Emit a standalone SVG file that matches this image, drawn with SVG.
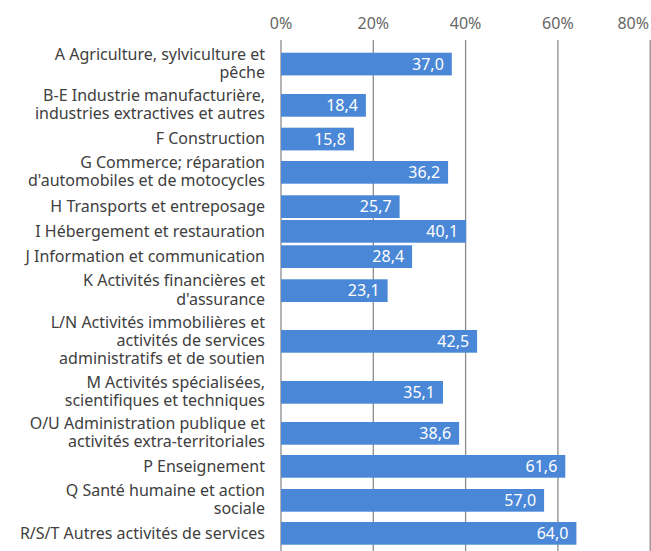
<svg xmlns="http://www.w3.org/2000/svg" width="651" height="551" viewBox="0 0 651 551">
<style>
.lbl{font-family:"Noto Sans","Open Sans",sans-serif;font-size:16px;fill:#404040;text-anchor:end}
.tick{font-family:"Noto Sans","Open Sans",sans-serif;font-size:16px;fill:#666666;text-anchor:middle}
.val{font-family:"Noto Sans","Open Sans",sans-serif;font-size:16px;fill:#ffffff;text-anchor:end}
.bar{fill:#4a87d6}
.grid{stroke:#8c8c8c;stroke-width:1.3}
</style>
<rect width="651" height="551" fill="#ffffff"/>
<g id="axis">
<line class="grid" x1="281" y1="40" x2="281" y2="551"/>
<line class="grid" x1="373.3" y1="40" x2="373.3" y2="551"/>
<line class="grid" x1="465.6" y1="40" x2="465.6" y2="551"/>
<line class="grid" x1="557.9" y1="40" x2="557.9" y2="551"/>
<line class="grid" x1="650.2" y1="40" x2="650.2" y2="551"/>
<text class="tick" x="281" y="29">0%</text>
<text class="tick" x="373.3" y="29">20%</text>
<text class="tick" x="465.6" y="29">40%</text>
<text class="tick" x="557.9" y="29">60%</text>
<text class="tick" x="649" y="29" style="text-anchor:end">80%</text>
</g>
<g id="A"><text class="lbl"><tspan x="265" y="59.6">A Agriculture, sylviculture et</tspan><tspan x="265" y="77.9">pêche</tspan></text><rect class="bar" x="281" y="52.7" width="170.8" height="22.7"/><text class="val" x="443.8" y="69.6">37,0</text></g>
<g id="BE"><text class="lbl"><tspan x="265" y="100.9">B-E Industrie manufacturière,</tspan><tspan x="265" y="119.2">industries extractives et autres</tspan></text><rect class="bar" x="281" y="94" width="84.9" height="22.7"/><text class="val" x="357.9" y="111">18,4</text></g>
<g id="F"><text class="lbl" x="265" y="144.4">F Construction</text><rect class="bar" x="281" y="127.7" width="72.9" height="22.7"/><text class="val" x="345.9" y="144.6">15,8</text></g>
<g id="G"><text class="lbl"><tspan x="265" y="167.9">G Commerce; réparation</tspan><tspan x="265" y="186.2">d'automobiles et de motocycles</tspan></text><rect class="bar" x="281" y="161" width="167.1" height="22.7"/><text class="val" x="440.1" y="178">36,2</text></g>
<g id="H"><text class="lbl" x="265" y="211.9">H Transports et entreposage</text><rect class="bar" x="281" y="195.3" width="118.6" height="22.7"/><text class="val" x="391.6" y="212.3">25,7</text></g>
<g id="I"><text class="lbl" x="265" y="236.6">I Hébergement et restauration</text><rect class="bar" x="281" y="220" width="185.1" height="22.7"/><text class="val" x="458.1" y="237">40,1</text></g>
<g id="J"><text class="lbl" x="265" y="261.9">J Information et communication</text><rect class="bar" x="281" y="245.3" width="131.1" height="22.7"/><text class="val" x="404.1" y="262.3">28,4</text></g>
<g id="K"><text class="lbl"><tspan x="265" y="286.2">K Activités financières et</tspan><tspan x="265" y="304.5">d'assurance</tspan></text><rect class="bar" x="281" y="279.3" width="106.6" height="22.7"/><text class="val" x="379.6" y="296.3">23,1</text></g>
<g id="LN"><text class="lbl"><tspan x="265" y="327.8">L/N Activités immobilières et</tspan><tspan x="265" y="346.1">activités de services</tspan><tspan x="265" y="364.4">administratifs et de soutien</tspan></text><rect class="bar" x="281" y="330" width="196.1" height="22.7"/><text class="val" x="469.1" y="347">42,5</text></g>
<g id="M"><text class="lbl"><tspan x="265" y="387.9">M Activités spécialisées,</tspan><tspan x="265" y="406.2">scientifiques et techniques</tspan></text><rect class="bar" x="281" y="381" width="162" height="22.7"/><text class="val" x="435" y="398">35,1</text></g>
<g id="OU"><text class="lbl"><tspan x="265" y="428.9">O/U Administration publique et</tspan><tspan x="265" y="447.2">activités extra-territoriales</tspan></text><rect class="bar" x="281" y="422" width="178.1" height="22.7"/><text class="val" x="451.1" y="439">38,6</text></g>
<g id="P"><text class="lbl" x="265" y="471.6">P Enseignement</text><rect class="bar" x="281" y="455" width="284.3" height="22.7"/><text class="val" x="557.3" y="472">61,6</text></g>
<g id="Q"><text class="lbl"><tspan x="265" y="495.9">Q Santé humaine et action</tspan><tspan x="265" y="514.2">sociale</tspan></text><rect class="bar" x="281" y="489" width="263.1" height="22.7"/><text class="val" x="536.1" y="506">57,0</text></g>
<g id="RST"><text class="lbl" x="265" y="538.6">R/S/T Autres activités de services</text><rect class="bar" x="281" y="522" width="295.4" height="22.7"/><text class="val" x="568.4" y="539">64,0</text></g>
</svg>
